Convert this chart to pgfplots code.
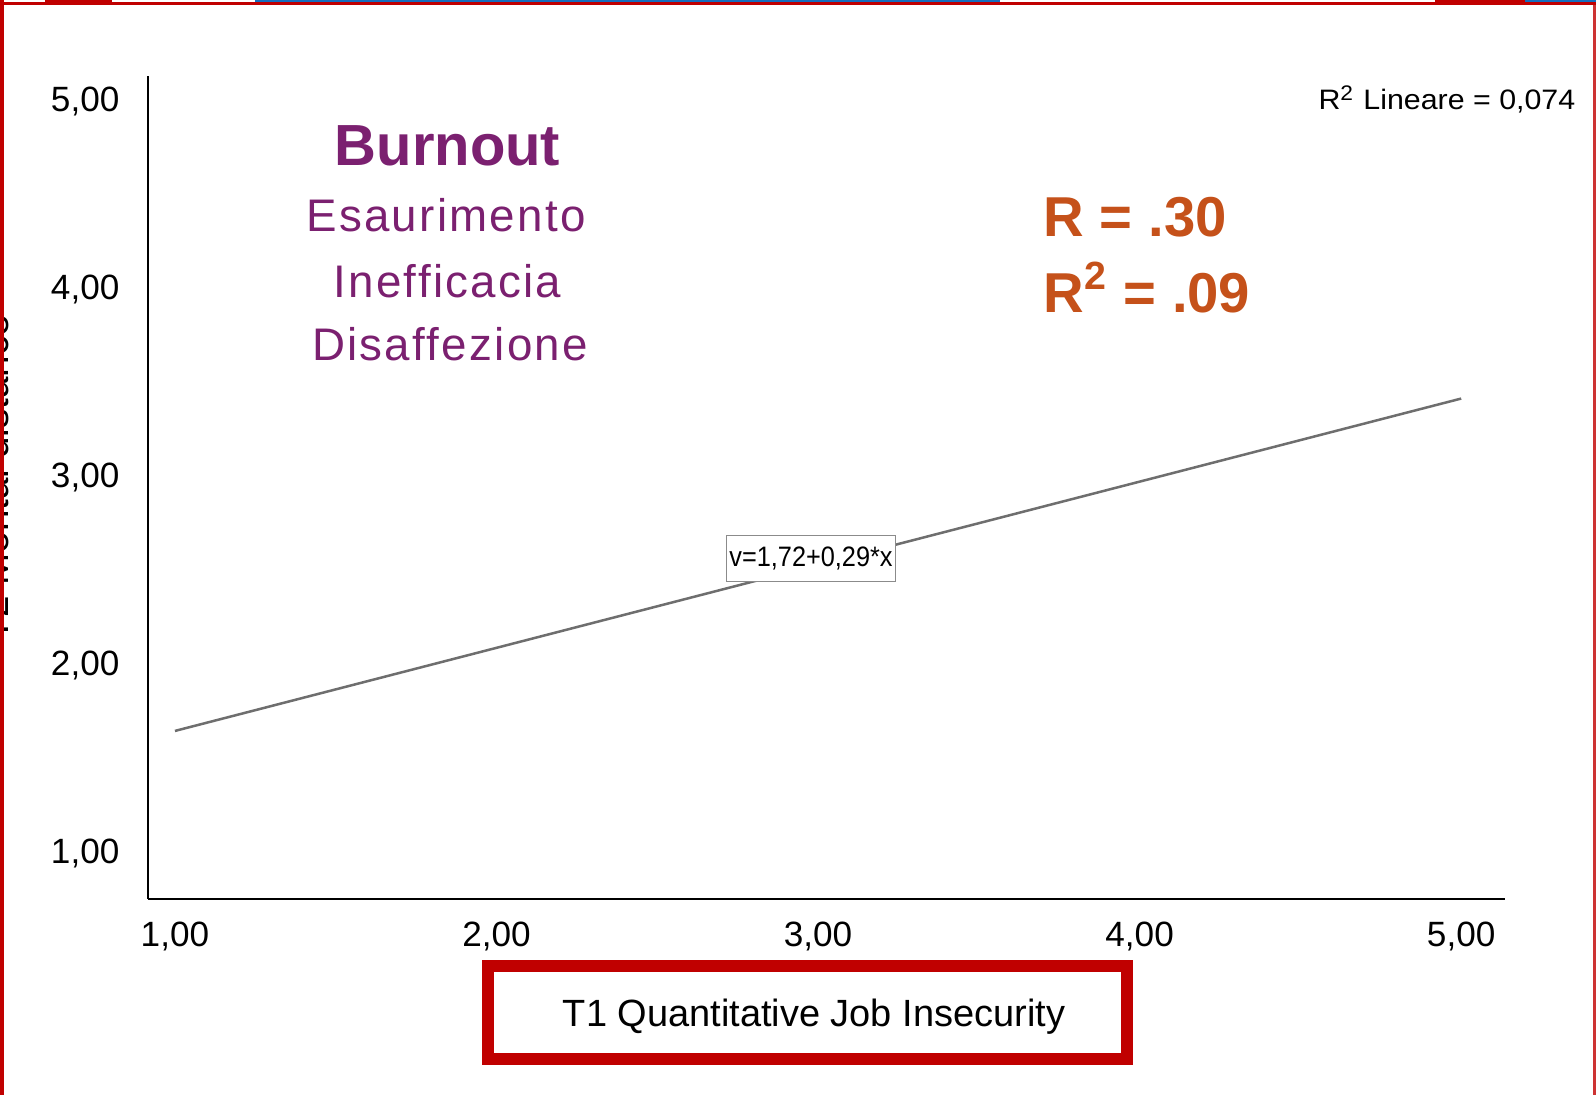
\documentclass[border=0pt]{standalone}
\usepackage{fontspec}
\setmainfont{Liberation Sans}
\newfontfamily\purplefont[LetterSpace=5]{Liberation Sans}
\usepackage{pgfplots}
\pgfplotsset{compat=1.18}

\definecolor{burnpurple}{RGB}{123,32,112}
\definecolor{rorange}{RGB}{197,81,26}
\definecolor{boxred}{RGB}{192,0,0}
\definecolor{linegray}{RGB}{110,110,110}
\definecolor{topblue}{RGB}{20,110,190}

\begin{document}
\begin{tikzpicture}[x=0.1mm,y=0.1mm]
\useasboundingbox (0,0) rectangle (1596,1095);
\clip (0,0) rectangle (1596,1095);
\fill[white] (0,0) rectangle (1596,1095);

\begin{axis}[
    at={(14.76mm,19.62mm)}, anchor=south west,
    scale only axis,
    width=135.7mm, height=82.25mm,
    xmin=0.915, xmax=5.135,
    ymin=0.756, ymax=5.136,
    axis x line=bottom, axis y line=left,
    axis line style={-, line width=0.2mm, black},
    xtick={1,2,3,4,5}, ytick={1,2,3,4,5},
    major tick length=0pt,
    tick label style={font=\fontsize{10}{12}\selectfont},
    xticklabel style={yshift=-3pt},
    yticklabel style={xshift=-4.5pt},
    /pgf/number format/.cd, fixed, fixed zerofill, precision=2, use comma, assume math mode=true,
]
% regression line as drawn
\addplot[linegray, line width=0.25mm] coordinates {
    (1, 1.65)
    (5, 3.42)
};
\end{axis}

% equation label
\node[draw=linegray!80, line width=0.1mm, fill=white, inner xsep=0.8pt,
      minimum height=4.3mm] at (811,536.5)
    {\scalebox{0.9}[1]{\fontsize{8}{8}\selectfont v=1,72+0,29*x}};

% fit statistic, top right
\node[anchor=base east, inner sep=0pt] at (1576,985)
    {\scalebox{1.08}[1]{\fontsize{8}{8}\selectfont R\textsuperscript{2} Lineare = 0,074}};

% purple titles
\node[anchor=base, text=burnpurple, font=\fontsize{16.5}{16.5}\selectfont\bfseries] at (447.5,930) {Burnout};
\node[anchor=base, text=burnpurple, font=\purplefont\fontsize{13}{13}\selectfont] at (446,864) {Esaurimento};
\node[anchor=base, text=burnpurple, font=\purplefont\fontsize{13}{13}\selectfont] at (447.5,798) {Inefficacia};
\node[anchor=base, text=burnpurple, font=\purplefont\fontsize{13}{13}\selectfont] at (450,735) {Disaffezione};

% orange stats
\node[anchor=base west, inner sep=0pt, text=rorange, font=\fontsize{16}{16}\selectfont\bfseries] at (1043,859) {R = .30};
\node[anchor=base west, inner sep=0pt, text=rorange, font=\fontsize{16}{16}\selectfont\bfseries] at (1043,783) {R\textsuperscript{2} = .09};

% x label in red frame
\draw[boxred, line width=1.2mm] (487.5,36) rectangle (1127,129);
\node[anchor=base, font=\fontsize{10.8}{11}\selectfont] at (814,69) {T1 Quantitative Job Insecurity};

% cut-off y label
\node[rotate=90, anchor=base, font=\fontsize{11}{11}\selectfont] at (8,617) {T2 Mental distance};

% frame edges
\fill[boxred] (0,0) rectangle (4,1095);
\fill[boxred!80] (1593,0) rectangle (1596,1095);
\fill[boxred] (0,1090) rectangle (1596,1093);
\fill[topblue] (255,1093) rectangle (1000,1095);
\fill[topblue] (1525,1093) rectangle (1596,1095);
\fill[boxred] (45,1093) rectangle (112,1095);
\fill[boxred] (1435,1093) rectangle (1525,1095);
\end{tikzpicture}
\end{document}
